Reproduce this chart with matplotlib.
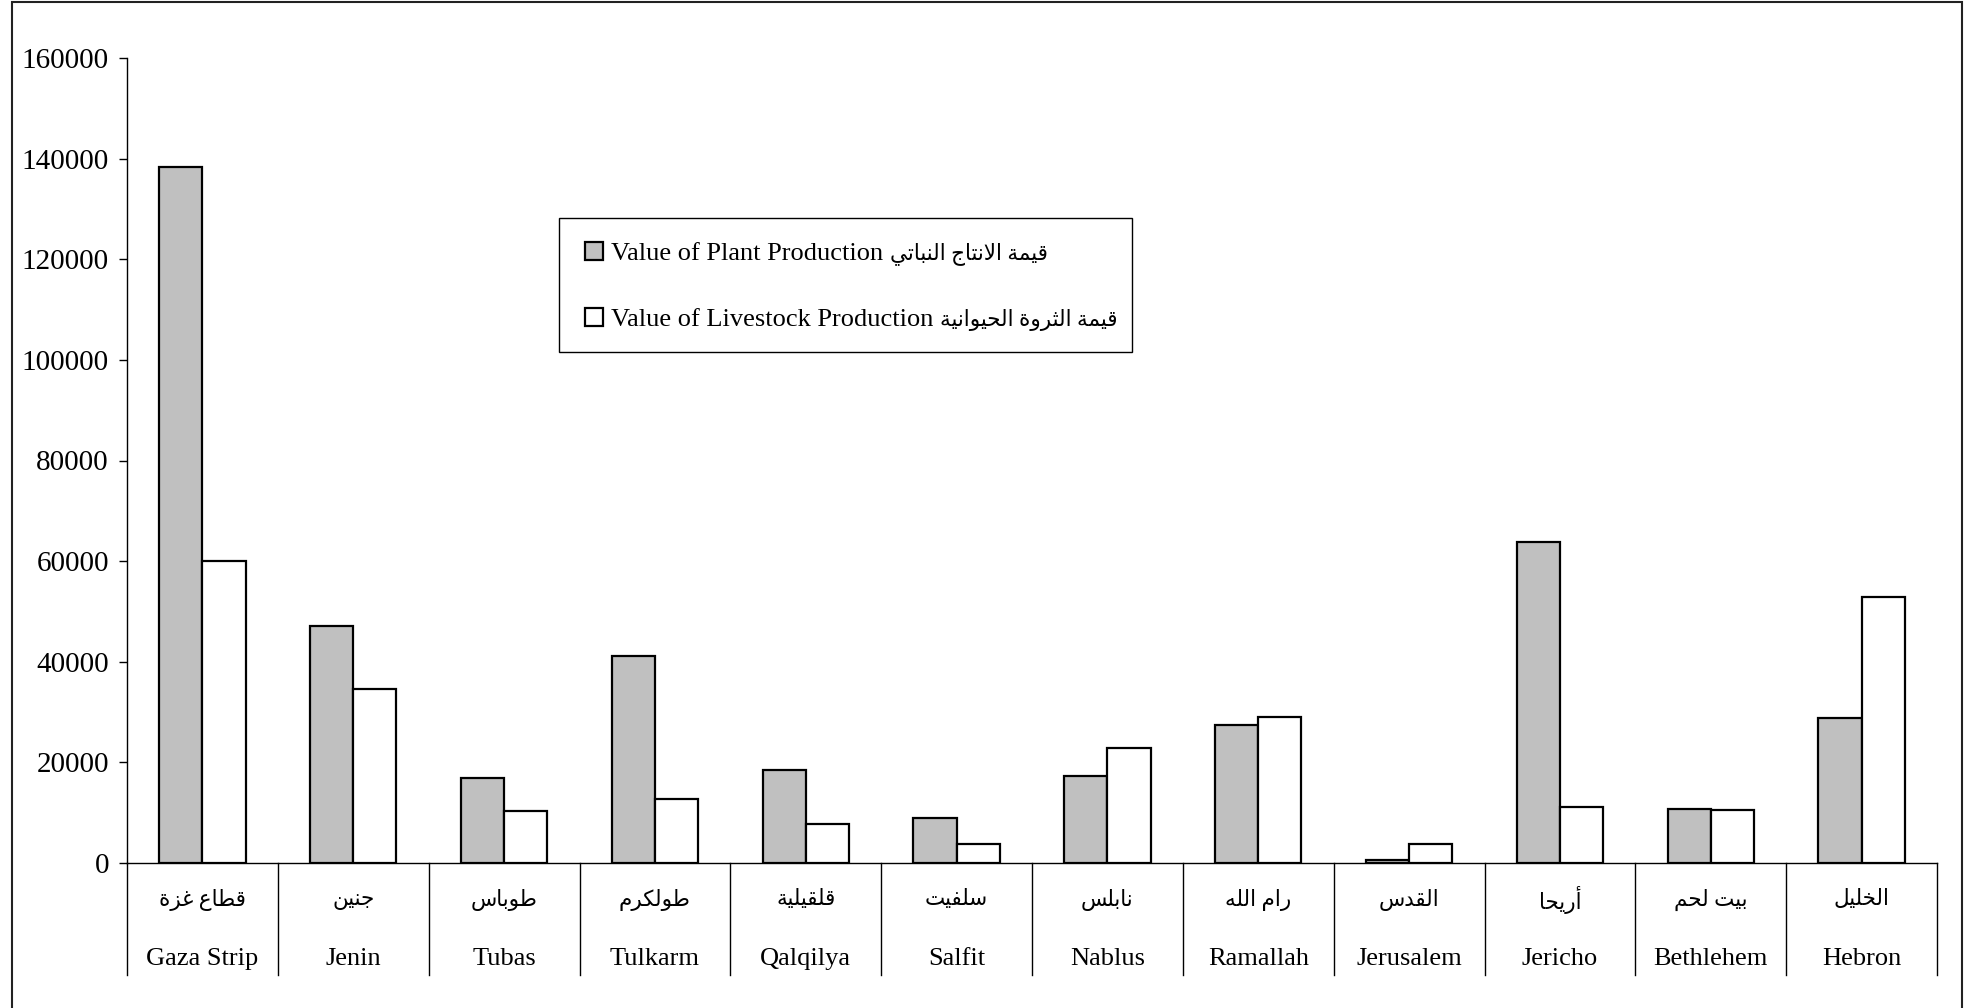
import matplotlib
matplotlib.use("Agg")
import matplotlib.pyplot as plt
from matplotlib.patches import Rectangle
import numpy as np

# Data
regions_en = ['Gaza Strip', 'Jenin', 'Tubas', 'Tulkarm', 'Qalqilya', 'Salfit',
              'Nablus', 'Ramallah', 'Jerusalem', 'Jericho', 'Bethlehem', 'Hebron']
regions_ar = ['قطاع غزة', 'جنين', 'طوباس', 'طولكرم', 'قلقيلية', 'سلفيت',
              'نابلس', 'رام الله', 'القدس', 'أريحا', 'بيت لحم', 'الخليل']
plant = [138300, 47100, 16900, 41100, 18500, 9000,
         17300, 27500, 500, 63800, 10700, 28900]
livestock = [60000, 34500, 10400, 12700, 7700, 3700,
             22900, 29000, 3700, 11200, 10500, 52800]
yticks = list(range(0, 160001, 20000))

legend_en = ['Value of Plant Production', 'Value of Livestock Production']
legend_ar = ['قيمة الانتاج النباتي', 'قيمة الثروة الحيوانية']
series_colors = ['#C0C0C0', 'white']

# --- minimal Arabic shaping (presentation forms, visual order) ---
DUAL = {'ب': 0xFE8F, 'ت': 0xFE95, 'ث': 0xFE99, 'ج': 0xFE9D, 'ح': 0xFEA1,
        'خ': 0xFEA5, 'س': 0xFEB1, 'ط': 0xFEC1, 'ع': 0xFEC9, 'غ': 0xFECD,
        'ف': 0xFED1, 'ق': 0xFED5, 'ك': 0xFED9, 'ل': 0xFEDD, 'م': 0xFEE1,
        'ن': 0xFEE5, 'ه': 0xFEE9, 'ي': 0xFEF1}
RIGHT = {'ا': 0xFE8D, 'أ': 0xFE83, 'ة': 0xFE93, 'د': 0xFEA9, 'ر': 0xFEAD,
         'ز': 0xFEAF, 'و': 0xFEED}


def shape(text):
    chars = list(text)
    n = len(chars)
    out = []
    i = 0
    while i < n:
        c = chars[i]
        if c not in DUAL and c not in RIGHT:
            out.append(c)
            i += 1
            continue
        prev_joins = i > 0 and chars[i - 1] in DUAL
        if c == 'ل' and i + 1 < n and chars[i + 1] in ('ا', 'أ'):
            lig = 0xFEFB if chars[i + 1] == 'ا' else 0xFEF7
            out.append(chr(lig + (1 if prev_joins else 0)))
            i += 2
            continue
        next_joins = i + 1 < n and (chars[i + 1] in DUAL or chars[i + 1] in RIGHT)
        if c in DUAL:
            base = DUAL[c]
            if prev_joins and next_joins:
                form = base + 3
            elif prev_joins:
                form = base + 1
            elif next_joins:
                form = base + 2
            else:
                form = base
        else:
            base = RIGHT[c]
            form = base + 1 if prev_joins else base
        out.append(chr(form))
        i += 1
    return ''.join(reversed(out))


plt.rcParams['font.family'] = ['Liberation Serif', 'DejaVu Sans']

W, H = 1966, 1008
fig = plt.figure(figsize=(W / 100, H / 100), dpi=100)
ax = fig.add_axes([127 / W, 1 - 863 / H, (1937 - 127) / W, (863 - 58) / H])

x = np.arange(len(regions_en))
bw = 1 / 3.5
ax.bar(x - bw / 2, plant, bw, color=series_colors[0], edgecolor='black', linewidth=1.6)
ax.bar(x + bw / 2, livestock, bw, color=series_colors[1], edgecolor='black', linewidth=1.6)

ax.set_xlim(-0.5, len(regions_en) - 0.5)
ax.set_ylim(0, 160000)
ax.set_yticks(yticks)
ax.set_yticklabels([str(v) for v in yticks], fontsize=21)
ax.tick_params(axis='y', direction='out', length=6, width=1, pad=7)
ax.set_xticks([])
for s in ['top', 'right']:
    ax.spines[s].set_visible(False)
ax.spines['left'].set_linewidth(1)
ax.spines['bottom'].set_linewidth(1)

# category separators and two-level labels
trans = ax.get_xaxis_transform()
ph = 863 - 58
sep_bottom = -(975 - 863) / ph
for b in np.arange(len(regions_en) + 1) - 0.5:
    ax.plot([b, b], [0, sep_bottom], color='black', linewidth=1,
            transform=trans, clip_on=False)
for i in x:
    ax.text(i, -(900 - 863) / ph, shape(regions_ar[i]), transform=trans,
            ha='center', va='center', fontsize=15.5)
    ax.text(i, -(959 - 863) / ph, regions_en[i], transform=trans,
            ha='center', va='center', fontsize=19)

# legend drawn by hand (pixel layout)
def fx(px):
    return px / W


def fy(py):
    return 1 - py / H


fig.patches.append(Rectangle((fx(559), fy(352)), (1132 - 559) / W, (352 - 218) / H,
                             transform=fig.transFigure, facecolor='white',
                             edgecolor='black', linewidth=1))
renderer = fig.canvas.get_renderer()
for yc, en, ar, col in zip([251, 317], legend_en, legend_ar, series_colors):
    fig.patches.append(Rectangle((fx(585), fy(yc + 9)), 18 / W, 18 / H,
                                 transform=fig.transFigure, facecolor=col,
                                 edgecolor='black', linewidth=1.6))
    t = fig.text(fx(611), fy(yc + 3), en, ha='left', va='center', fontsize=19)
    bb = t.get_window_extent(renderer)
    fig.text(fx(bb.x1 + 7), fy(yc + 3), shape(ar), ha='left', va='center', fontsize=15.5)

# outer chart frame
fig.patches.append(Rectangle((12 / W, -0.01), (1962 - 12) / W, 1.01 - 2 / H,
                             transform=fig.transFigure, fill=False,
                             edgecolor='#222222', linewidth=1.5))

fig.savefig('out.png', dpi=100)
